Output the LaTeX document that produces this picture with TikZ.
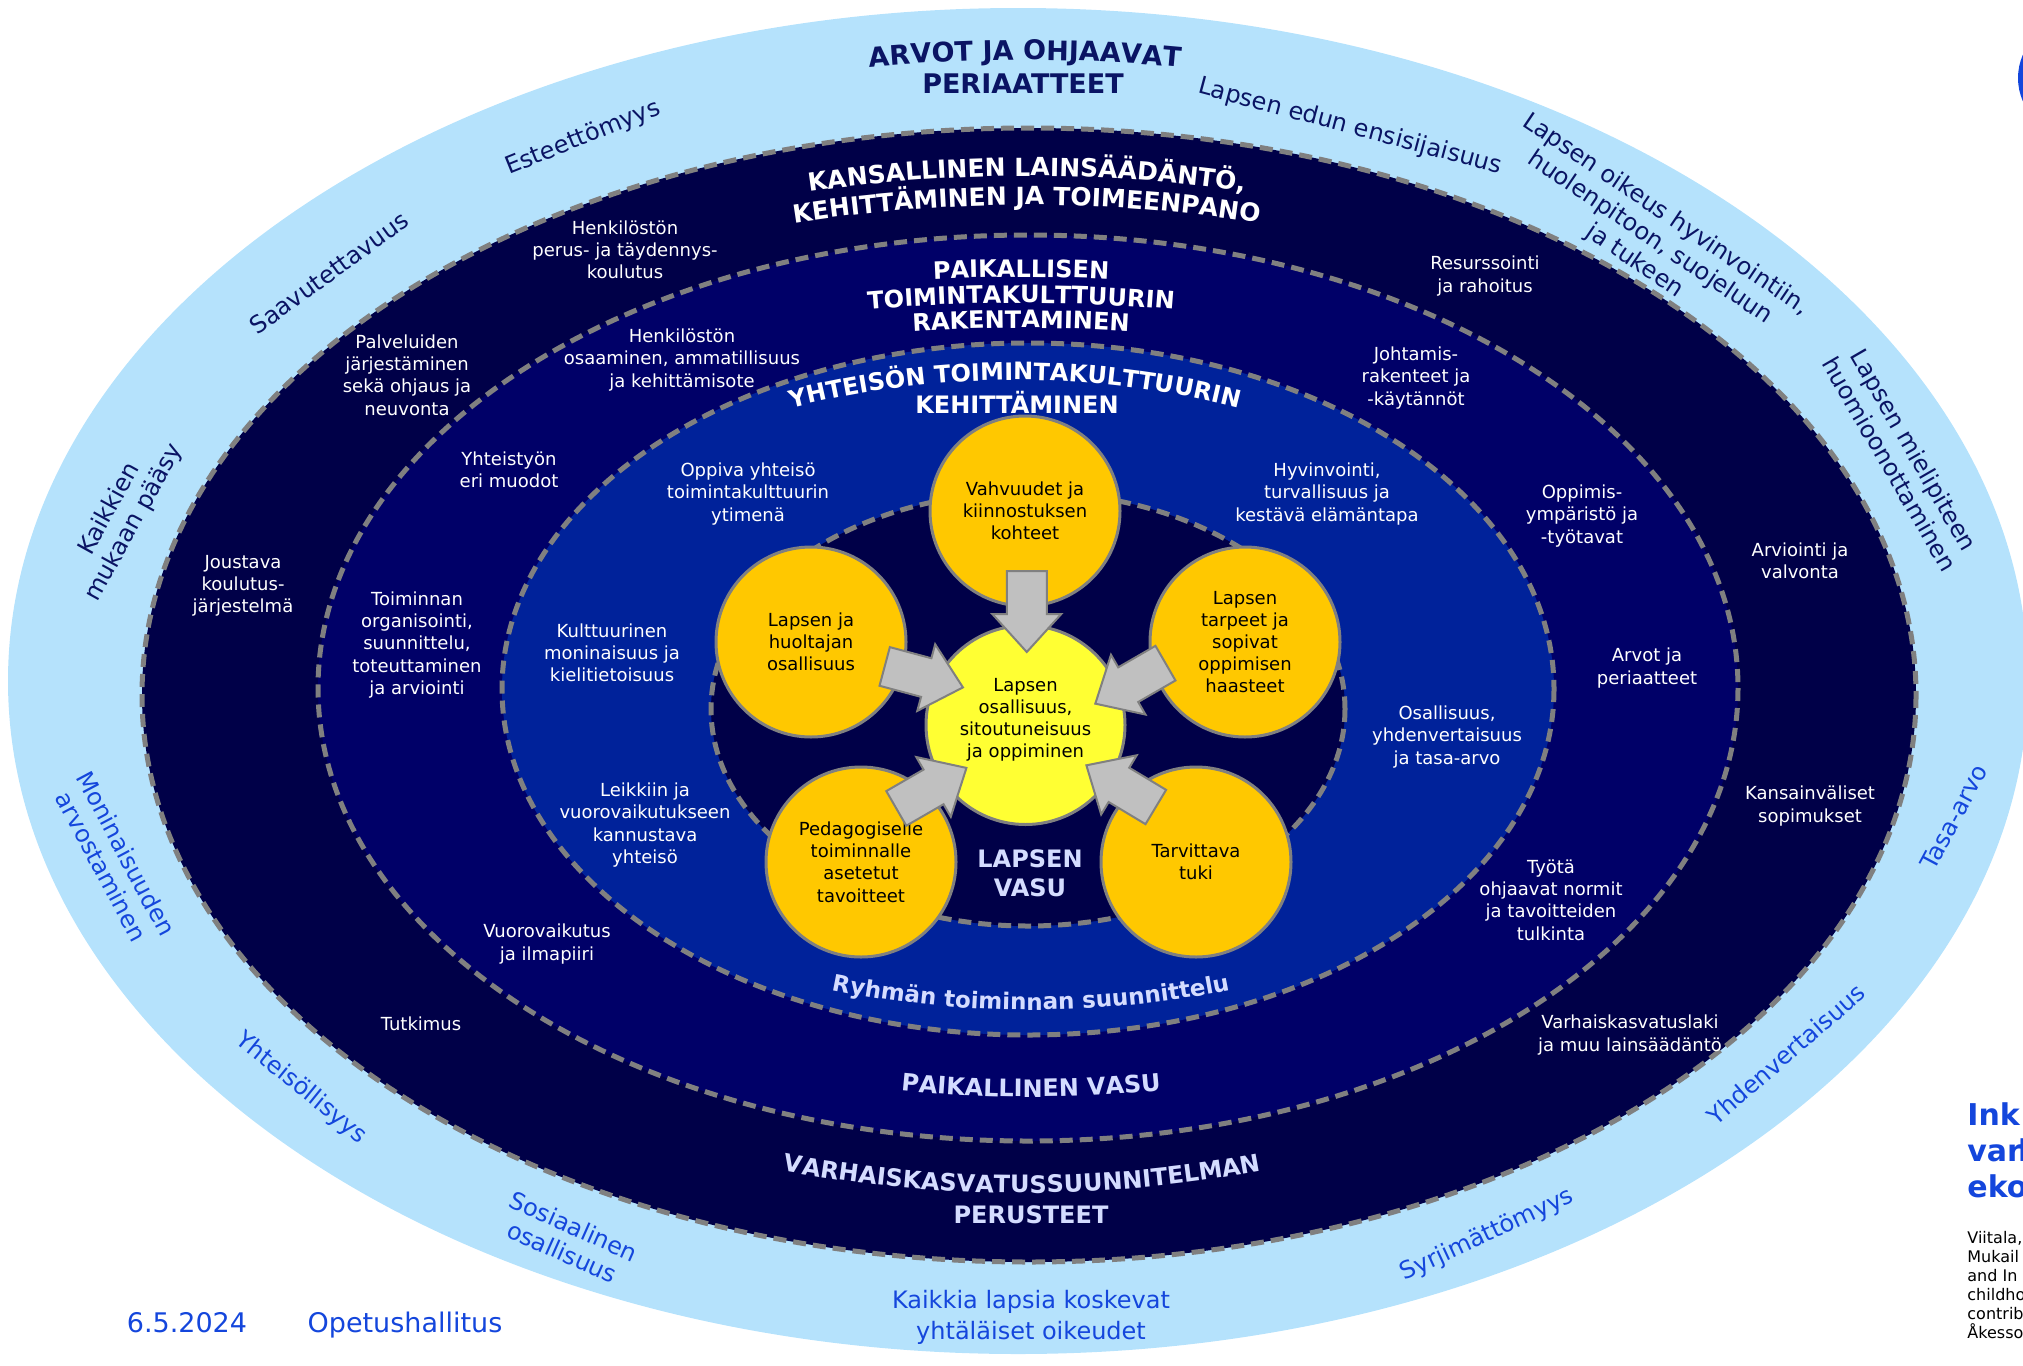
\documentclass[tikz,border=0pt]{standalone}
\usepackage{fontspec}
\setmainfont{DejaVu Sans}
\usetikzlibrary{decorations.text,calc}
\definecolor{lbfill}{HTML}{B5E2FC}
\definecolor{ringA}{HTML}{000048}
\definecolor{ringB}{HTML}{000068}
\definecolor{ringC}{HTML}{00229A}
\definecolor{ringD}{HTML}{000048}
\definecolor{dashgrey}{HTML}{808080}
\definecolor{gold}{HTML}{FFC800}
\definecolor{cyell}{HTML}{FFFF33}
\definecolor{agrey}{HTML}{C0C0C0}
\definecolor{navyT}{HTML}{0A1464}
\definecolor{blueT}{HTML}{1446DC}
\definecolor{lav}{HTML}{D4DCFF}
\newcommand\hdfont{\fontsize{12}{14.5}\selectfont\bfseries}
\newcommand\ksfont{\fontsize{12.5}{14.5}\selectfont\bfseries}
\newcommand\arvofont{\fontsize{13.5}{15.5}\selectfont\bfseries}
\newcommand\rymfont{\fontsize{11.5}{14}\selectfont\bfseries}
\newcommand\toparc[6]{\path[decorate,decoration={text along path,text align=center,text color=#5,text={#6}}] ($(#1,#2+#3)+(270-#4:#3)$) arc[start angle=270-#4,end angle=270+#4,radius=#3];}
\newcommand\botarc[6]{\path[decorate,decoration={text along path,text align=center,text color=#5,text={#6}}] ($(#1,#2-#3)+(90+#4:#3)$) arc[start angle=90+#4,end angle=90-#4,radius=#3];}
\tikzset{barrow/.pic={\filldraw[fill=agrey,draw=dashgrey,line width=1pt] (-81,-20) -- (-38,-20) -- (-38,-34.5) -- (0,0) -- (-38,34.5) -- (-38,20) -- (-81,20) -- cycle;}}
\begin{document}
\begin{tikzpicture}[x=0.5pt,y=-0.5pt,
  lbl/.style={text=white,font=\fontsize{9}{11.1}\selectfont,align=center,inner sep=0pt},
  outer/.style={font=\fontsize{12}{14}\selectfont,align=center,inner sep=0pt},
  navy/.style={outer,text=navyT},
  blu/.style={outer,text=blueT},
  foot/.style={font=\fontsize{13.5}{16}\selectfont,text=blueT,inner sep=0pt,anchor=base},
  refl/.style={anchor=base west,inner sep=0pt,font=\fontsize{8}{9.5}\selectfont,text=black},
  inkl/.style={anchor=base west,inner sep=0pt,font=\fontsize{15}{18}\selectfont\bfseries,text=blueT},
  ringline/.style={draw=dashgrey,line width=2.5pt,dash pattern=on 6.5pt off 3.5pt},
  ycirc/.style={circle,fill=gold,draw=dashgrey,line width=1.5pt,minimum size=95pt,inner sep=0pt,align=center,font=\fontsize{9}{11.1}\selectfont,text=black}]
\useasboundingbox (0,0) rectangle (2023,1365);
\clip (0,0) rectangle (2023,1365);
% rings
\fill[lbfill] (1018,681) ellipse [x radius=1010,y radius=673];
\path[fill=ringA,ringline] (1029,695) ellipse [x radius=887,y radius=567];
\path[fill=ringB,ringline] (1028,688) ellipse [x radius=710,y radius=453];
\path[fill=ringC,ringline] (1028,689) ellipse [x radius=526,y radius=346];
\path[fill=ringD,ringline] (1028,709) ellipse [x radius=317,y radius=217];
\fill[blueT] (2076,78) circle [radius=58];
% outer ring texts
\toparc{1025}{60}{1650}{8}{navyT}{|\arvofont|ARVOT JA OHJAAVAT}
\node[anchor=base,font=\arvofont,text=navyT,inner sep=0pt] (arvo2) at (1023,93) {PERIAATTEET};
\node[navy,rotate=-15] (edun) at (1350,127) {Lapsen edun ensisijaisuus};
\node[navy,rotate=-34] (oikeus) at (1650,238) {Lapsen oikeus hyvinvointiin,\\huolenpitoon, suojeluun\\ja tukeen};
\node[navy,rotate=-60] (mieli) at (1902,457) {Lapsen mielipiteen\\huomioonottaminen};
\node[blu,rotate=62] (tasa) at (1954,817) {Tasa-arvo};
\node[blu,rotate=41] (yhden) at (1786,1054) {Yhdenvertaisuus};
\node[blu,rotate=25] (syrj) at (1487,1235) {Syrjimättömyys};
\node[blu,anchor=base] (kaik1) at (1031,1308) {Kaikkia lapsia koskevat};
\node[blu,anchor=base] (kaik2) at (1031,1339) {yhtäläiset oikeudet};
\node[blu,rotate=-24] (sos) at (568,1239) {Sosiaalinen\\osallisuus};
\node[blu,rotate=-39] (yht) at (301,1088) {Yhteisöllisyys};
\node[blu,rotate=-62] (moni) at (114,860) {Moninaisuuden\\arvostaminen};
\node[navy,rotate=61] (mukaan) at (122,516) {Kaikkien\\mukaan pääsy};
\node[navy,rotate=36] (saav) at (329,273) {Saavutettavuus};
\node[navy,rotate=22] (este) at (583,138) {Esteettömyys};
% ring 2 labels
\toparc{1027}{176}{1500}{12}{white}{|\ksfont|KANSALLINEN LAINSÄÄDÄNTÖ,}
\toparc{1027}{205}{1500}{12}{white}{|\ksfont|KEHITTÄMINEN JA TOIMEENPANO}
\node[lbl] (hpk) at (625,250) {Henkilöstön\\perus- ja täydennys-\\koulutus};
\node[lbl] (palv) at (407,375) {Palveluiden\\järjestäminen\\sekä ohjaus ja\\neuvonta};
\node[lbl] (joust) at (243,586) {Joustava\\koulutus-\\järjestelmä};
\node[lbl] (tutk) at (421,1024) {Tutkimus};
\node[lbl] (vklaki) at (1630,1035) {Varhaiskasvatuslaki\\ja muu lainsäädäntö};
\node[lbl] (kvsop) at (1810,806) {Kansainväliset\\sopimukset};
\node[lbl] (arvval) at (1800,561) {Arviointi ja\\valvonta};
\node[lbl] (resurs) at (1485,276) {Resurssointi\\ja rahoitus};
\botarc{1022}{1193}{1300}{14}{lav}{|\hdfont|VARHAISKASVATUSSUUNNITELMAN}
\node[anchor=base,font=\hdfont,text=lav,inner sep=0pt] (perust) at (1031,1223) {PERUSTEET};
% ring 3 labels
\toparc{1021}{277}{1800}{8}{white}{|\hdfont|PAIKALLISEN}
\toparc{1021}{303}{1800}{8}{white}{|\hdfont|TOIMINTAKULTTUURIN}
\toparc{1021}{328}{1800}{8}{white}{|\hdfont|RAKENTAMINEN}
\node[lbl] (hoa) at (682,360) {Henkilöstön\\osaaminen, ammatillisuus\\ja kehittämisote};
\node[lbl] (yhteis) at (509,470) {Yhteistyön\\eri muodot};
\node[lbl] (toim) at (417,645) {Toiminnan\\organisointi,\\suunnittelu,\\toteuttaminen\\ja arviointi};
\node[lbl] (vuoro) at (547,944) {Vuorovaikutus\\ja ilmapiiri};
\node[lbl] (tyota) at (1551,900) {Työtä\\ohjaavat normit\\ja tavoitteiden\\tulkinta};
\node[lbl] (arvper) at (1647,668) {Arvot ja\\periaatteet};
\node[lbl] (oppymp) at (1582,516) {Oppimis-\\ympäristö ja\\-työtavat};
\node[lbl] (johta) at (1416,378) {Johtamis-\\rakenteet ja\\-käytännöt};
\botarc{1031}{1097}{1300}{8}{lav}{|\hdfont|PAIKALLINEN VASU}
% ring 4 labels
\toparc{1015}{380}{900}{20}{white}{|\hdfont|YHTEISÖN TOIMINTAKULTTUURIN}
\node[anchor=base,font=\hdfont,text=white,inner sep=0pt] (keh) at (1017,413) {KEHITTÄMINEN};
\node[lbl] (oppiva) at (748,494) {Oppiva yhteisö\\toimintakulttuurin\\ytimenä};
\node[lbl] (kultt) at (612,653) {Kulttuurinen\\moninaisuus ja\\kielitietoisuus};
\node[lbl] (leikki) at (645,825) {Leikkiin ja\\vuorovaikutukseen\\kannustava\\yhteisö};
\node[lbl] (osall) at (1447,737) {Osallisuus,\\yhdenvertaisuus\\ja tasa-arvo};
\node[lbl] (hyvin) at (1327,494) {Hyvinvointi,\\turvallisuus ja\\kestävä elämäntapa};
\botarc{1031}{1010}{1000}{14}{lav}{|\rymfont|Ryhmän toiminnan suunnittelu}
% inner
\node[font=\hdfont,text=lav,align=center,inner sep=0pt] (lvasu) at (1030,873) {LAPSEN\\VASU};
\node[ycirc] (ctop) at (1025,511) {Vahvuudet ja\\kiinnostuksen\\kohteet};
\node[ycirc] (cleft) at (811,642) {Lapsen ja\\huoltajan\\osallisuus};
\node[ycirc] (cright) at (1245,642) {Lapsen\\tarpeet ja\\sopivat\\oppimisen\\haasteet};
\node[ycirc] (cbl) at (861,862) {Pedagogiselle\\toiminnalle\\asetetut\\tavoitteet};
\node[ycirc] (cbr) at (1196,862) {Tarvittava\\tuki};
\node[ycirc,fill=cyell,minimum size=99.5pt] (cc) at (1025.5,725) {Lapsen\\osallisuus,\\sitoutuneisuus\\ja oppiminen\\[-4pt]};
\foreach \ta/\ra in {-89/-90,211/-15,-17/210,144/30,33.5/149}
  \pic[rotate=\ra] at ($(cc.center)+(\ta:73)$) {barrow};
% footer
\node[foot] (date) at (187,1332) {6.5.2024};
\node[foot] (oph) at (405,1332) {Opetushallitus};
\node[inkl] (ink1) at (1967,1125) {Ink};
\node[inkl] (ink2) at (1967,1161) {var\kern-2pt h};
\node[inkl] (ink3) at (1967,1197) {eko};
\node[refl] (ref1) at (1967,1243) {Viitala,};
\node[refl] (ref2) at (1967,1262) {Mukail};
\node[refl] (ref3) at (1967,1281) {and In};
\node[refl] (ref4) at (1967,1300) {childho};
\node[refl] (ref5) at (1967,1319) {contrib};
\node[refl] (ref6) at (1967,1338) {Åkesso};
\end{tikzpicture}
\end{document}
